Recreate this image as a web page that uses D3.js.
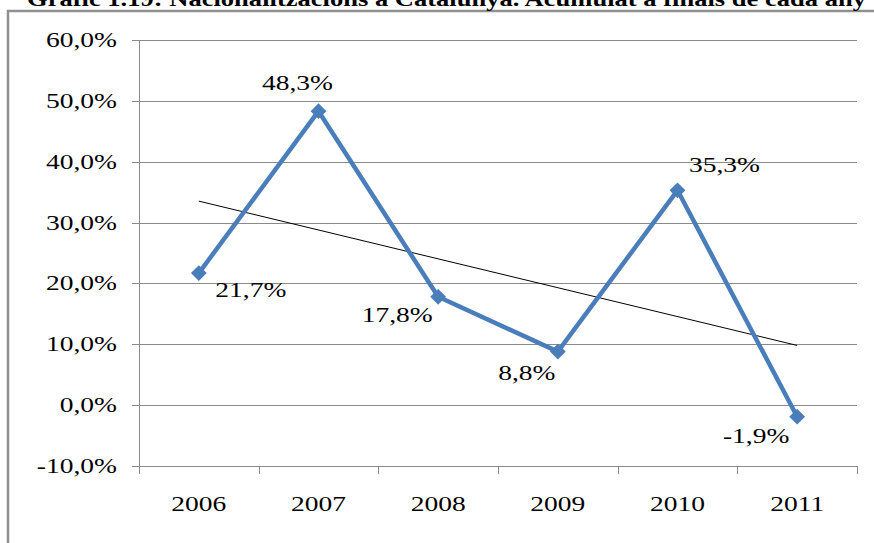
<!DOCTYPE html>
<html lang="ca">
<head>
<meta charset="UTF-8">
<title>Gràfic 1.19</title>
<style>
    body { margin: 0; background: #fff; }
    svg text { fill: #000; }
    .grid line { stroke: #8a8a8a; stroke-width: 1; }
    .axis line, .axis path { stroke: #8a8a8a; stroke-width: 1; }
</style>
</head>
<body>
<svg id="chart" width="874" height="543"></svg>
<script src="https://d3js.org/d3.v7.min.js"></script>
<script>
// values
var years = ["2006", "2007", "2008", "2009", "2010", "2011"];
var values = [21.7, 48.3, 17.8, 8.8, 35.3, -1.9];
var yTicks = [-10, 0, 10, 20, 30, 40, 50, 60];
var title = "Gràfic 1.19: Nacionalitzacions a Catalunya. Acumulat a finals de cada any";

// where each data label sits relative to its point (dx, dy)
var labelOffsets = [[52, 24], [-21, -21], [-41, 25], [-31, 28], [47, -18], [-41, 26]];

var serif = "Liberation Serif";
var stretch = 1.25; // the source picture is widened horizontally
var fmt = function(v) { return d3.format(".1f")(v).replace("\u2212", "-").replace(".", ",") + "%"; };

var svg = d3.select("#chart");

// outer frame (runs off the right and bottom of the picture)
svg.append("rect")
    .attr("x", 8).attr("y", 11)
    .attr("width", 900).attr("height", 600)
    .attr("fill", "none")
    .attr("stroke", "#909090")
    .attr("stroke-width", 2.5);

svg.append("text")
    .attr("x", 27).attr("y", 6)
    .attr("textLength", 839)
    .attr("lengthAdjust", "spacingAndGlyphs")
    .attr("font-family", serif)
    .attr("font-weight", "bold")
    .attr("font-size", 21)
    .text(title);

var x = d3.scaleBand().domain(years).range([139, 857]);
var y = d3.scaleLinear().domain([-10, 60]).range([466, 40]);

// gridlines
svg.append("g").attr("class", "grid")
    .selectAll("line")
    .data(yTicks.filter(function(d) { return d > -10; }))
    .enter().append("line")
    .attr("x1", 139).attr("x2", 857)
    .attr("y1", function(d) { return Math.round(y(d)) + 0.5; })
    .attr("y2", function(d) { return Math.round(y(d)) + 0.5; });

// y axis
var yAxis = svg.append("g").attr("class", "axis");
yAxis.append("line")
    .attr("x1", 139.5).attr("x2", 139.5)
    .attr("y1", y(60)).attr("y2", y(-10));
yAxis.selectAll(".tick")
    .data(yTicks)
    .enter().append("line")
    .attr("x1", 132).attr("x2", 139.5)
    .attr("y1", function(d) { return Math.round(y(d)) + 0.5; })
    .attr("y2", function(d) { return Math.round(y(d)) + 0.5; });
yAxis.selectAll("g.lab")
    .data(yTicks)
    .enter().append("g")
    .attr("class", "lab")
    .attr("transform", function(d) { return "translate(117," + (y(d) + 7) + ") scale(" + stretch + ",1)"; })
    .append("text")
    .attr("text-anchor", "end")
    .attr("font-family", serif)
    .attr("font-size", 22)
    .text(fmt);

// x axis
var xAxis = svg.append("g").attr("class", "axis");
xAxis.append("line")
    .attr("x1", 139).attr("x2", 857)
    .attr("y1", Math.round(y(-10)) + 0.5).attr("y2", Math.round(y(-10)) + 0.5);
var bounds = years.map(function(d) { return x(d); }).concat([x.range()[1]]);
xAxis.selectAll(".tick")
    .data(bounds)
    .enter().append("line")
    .attr("x1", function(d) { return Math.round(d) + 0.5; })
    .attr("x2", function(d) { return Math.round(d) + 0.5; })
    .attr("y1", y(-10)).attr("y2", y(-10) + 8);
xAxis.selectAll("g.lab")
    .data(years)
    .enter().append("g")
    .attr("class", "lab")
    .attr("transform", function(d) { return "translate(" + (x(d) + x.bandwidth() / 2) + ",511) scale(" + stretch + ",1)"; })
    .append("text")
    .attr("text-anchor", "middle")
    .attr("font-family", serif)
    .attr("font-size", 22)
    .text(function(d) { return d; });

var cx = function(d, i) { return x(years[i]) + x.bandwidth() / 2; };

// linear trend (least squares on the series, as the spreadsheet does)
var n = values.length;
var mx = d3.mean(values, function(d, i) { return i; });
var my = d3.mean(values);
var slope = d3.sum(values, function(d, i) { return (i - mx) * (d - my); }) /
            d3.sum(values, function(d, i) { return (i - mx) * (i - mx); });
var trend = [0, n - 1].map(function(i) { return [cx(null, i), y(my + slope * (i - mx))]; });
svg.append("path")
    .attr("d", d3.line()(trend))
    .attr("fill", "none")
    .attr("stroke", "#000")
    .attr("stroke-width", 1);

// series
var line = d3.line()
    .x(function(d, i) { return cx(d, i); })
    .y(function(d) { return y(d); });
svg.append("path")
    .datum(values)
    .attr("d", line)
    .attr("fill", "none")
    .attr("stroke", "#4a7ebb")
    .attr("stroke-width", 4.5)
    .attr("stroke-linejoin", "round");

svg.selectAll(".marker")
    .data(values)
    .enter().append("path")
    .attr("class", "marker")
    .attr("d", d3.symbol().type(d3.symbolSquare).size(125))
    .attr("transform", function(d, i) { return "translate(" + cx(d, i) + "," + y(d) + ") rotate(45)"; })
    .attr("fill", "#4a7ebb");

svg.selectAll("g.dlab")
    .data(values)
    .enter().append("g")
    .attr("class", "dlab")
    .attr("transform", function(d, i) {
        return "translate(" + (cx(d, i) + labelOffsets[i][0]) + "," + (y(d) + labelOffsets[i][1]) + ") scale(" + stretch + ",1)";
    })
    .append("text")
    .attr("text-anchor", "middle")
    .attr("font-family", serif)
    .attr("font-size", 22)
    .text(fmt);
</script>
</body>
</html>
